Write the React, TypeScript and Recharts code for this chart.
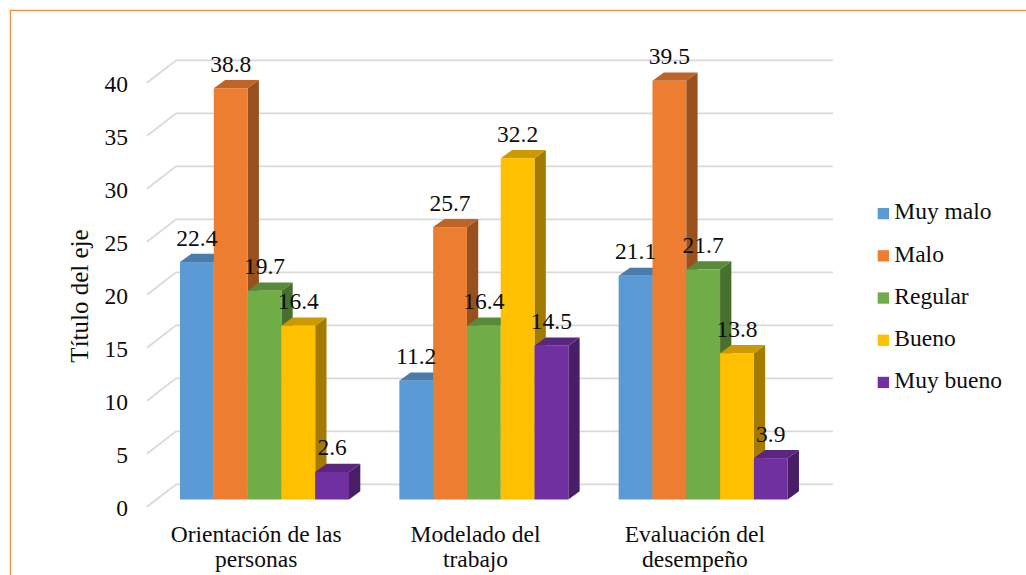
import React from 'react';
import { BarChart, Bar, XAxis, YAxis, CartesianGrid, LabelList, Legend } from 'recharts';

// Categories (two-line labels) and the five rating series
const categories = ['Orientación de las personas', 'Modelado del trabajo', 'Evaluación del desempeño'];
const categoryLines = [
  ['Orientación de las', 'personas'],
  ['Modelado del', 'trabajo'],
  ['Evaluación del', 'desempeño'],
];
const seriesNames = ['Muy malo', 'Malo', 'Regular', 'Bueno', 'Muy bueno'];
const seriesKeys = ['muyMalo', 'malo', 'regular', 'bueno', 'muyBueno'];
const seriesColors = ['#5B9BD5', '#ED7D31', '#70AD47', '#FFC000', '#7030A0'];

const muyMalo = [22.4, 11.2, 21.1];
const malo = [38.8, 25.7, 39.5];
const regular = [19.7, 16.4, 21.7];
const bueno = [16.4, 32.2, 13.8];
const muyBueno = [2.6, 14.5, 3.9];

const yTicks = [0, 5, 10, 15, 20, 25, 30, 35, 40];
const axisTitle = 'Título del eje';

const seriesValues = [muyMalo, malo, regular, bueno, muyBueno];
const data = categories.map((name, i) => {
  const row: Record<string, any> = { name, idx: i };
  seriesKeys.forEach((k, s) => {
    row[k] = seriesValues[s][i];
  });
  return row;
});

const FONT = '"Liberation Serif", "Times New Roman", serif';
const TEXT = '#0d0d0d';
const GRID = '#d9d9d9';

// depth of the 3D bars
const DX = 11.3;
const DY = 8.2;
// depth of the chart walls (grid)
const WALL_FRONT_X = -8;
const WALL_FRONT_Y = 7.2;
const WALL_BACK_X = 21;
const WALL_BACK_Y = -15.2;

function shade(hex: string, f: number) {
  const n = parseInt(hex.slice(1), 16);
  const r = Math.round(((n >> 16) & 255) * f);
  const g = Math.round(((n >> 8) & 255) * f);
  const b = Math.round((n & 255) * f);
  return `rgb(${r},${g},${b})`;
}

function Bar3D(props: any) {
  const { x, y, width, height, fill } = props;
  if (width == null || height == null) return null;
  const top = shade(fill, 0.8);
  const side = shade(fill, 0.64);
  const r = x + width;
  const b = y + height;
  return (
    <g>
      <polygon points={`${r},${y} ${r + DX},${y - DY} ${r + DX},${b - DY} ${r},${b}`} fill={side} />
      <polygon points={`${x},${y} ${x + DX},${y - DY} ${r + DX},${y - DY} ${r},${y}`} fill={top} />
      <rect x={x} y={y} width={width} height={height} fill={fill} />
    </g>
  );
}

function ValueLabel(props: any) {
  const { x, y, width, value } = props;
  return (
    <text
      x={x + width / 2}
      y={y - 16.5}
      textAnchor="middle"
      fontFamily={FONT}
      fontSize={23.5}
      fill={TEXT}
    >
      {value}
    </text>
  );
}

function GridLine(p: any) {
  const y = p.y1;
  const pts = `${p.x1 + WALL_FRONT_X},${y + WALL_FRONT_Y} ${p.x1 + WALL_BACK_X},${y + WALL_BACK_Y} ${p.x2 + 20},${y + WALL_BACK_Y}`;
  return <polyline key={`grid-${p.index}`} points={pts} fill="none" stroke={GRID} strokeWidth={1.8} />;
}

function YTick(props: any) {
  const { y, payload } = props;
  return (
    <text x={128} y={y + 16.3} textAnchor="end" fontFamily={FONT} fontSize={23.5} fill={TEXT}>
      {payload.value}
    </text>
  );
}

function XTick(props: any) {
  const { x, payload, index } = props;
  const lines = categoryLines[payload.index ?? index] || [payload.value];
  return (
    <g>
      {lines.map((t: string, i: number) => (
        <text
          key={i}
          x={x - 8.5}
          y={541.7 + i * 25.4}
          textAnchor="middle"
          fontFamily={FONT}
          fontSize={23.5}
          fill={TEXT}
        >
          {t}
        </text>
      ))}
    </g>
  );
}

function AxisTitle(props: any) {
  const vb = props.viewBox || { x: 0, y: 75.5, width: 155, height: 424 };
  const cy = vb.y + vb.height / 2 + 8.5;
  return (
    <text
      transform={`translate(88, ${cy}) rotate(-90)`}
      textAnchor="middle"
      fontFamily={FONT}
      fontSize={25}
      fill={TEXT}
    >
      {axisTitle}
    </text>
  );
}

function LegendBox() {
  return (
    <svg width={156} height={230} style={{ display: 'block', overflow: 'visible' }}>
      {seriesNames.map((n, i) => {
        const base = 29.3 + i * 42.2;
        return (
          <g key={n}>
            <rect x={7.7} y={base - 11.3} width={11.3} height={11.3} fill={seriesColors[i]} />
            <text x={24.3} y={base} fontFamily={FONT} fontSize={23.5} fill={TEXT}>
              {n}
            </text>
          </g>
        );
      })}
    </svg>
  );
}

export default function App() {
  return (
    <div
      style={{
        position: 'absolute',
        left: 0,
        top: 0,
        width: 1026,
        height: 575,
        overflow: 'hidden',
        background: '#fff',
      }}
    >
      <div
        style={{
          position: 'absolute',
          left: 10,
          top: 10,
          width: 1100,
          height: 700,
          borderLeft: '1.5px solid #F4893D',
          borderTop: '1.5px solid #F4893D',
          boxShadow: '-1px -1px 1px rgba(0,0,0,0.07)',
        }}
      />
      <div style={{ position: 'absolute', left: 0, top: 0 }}>
        <BarChart
          width={1026}
          height={575}
          data={data}
          margin={{ top: 75.5, right: 213, bottom: 0, left: 0 }}
          barGap={0}
          barSize={33.8}
        >
          <CartesianGrid vertical={false} horizontal={GridLine as any} />
          <XAxis
            dataKey="name"
            height={75.5}
            axisLine={false}
            tickLine={false}
            interval={0}
            tick={XTick as any}
          />
          <YAxis
            width={155}
            domain={[0, 40]}
            ticks={yTicks}
            axisLine={false}
            tickLine={false}
            tick={YTick as any}
            label={{ content: AxisTitle as any }}
          />
          <Legend
            layout="horizontal"
            align="center"
            verticalAlign="middle"
            wrapperStyle={{ left: 870, top: 190, width: 156, height: 230 }}
            content={() => <LegendBox />}
          />
          {seriesKeys.map((k, s) => (
            <Bar
              key={k}
              dataKey={k}
              name={seriesNames[s]}
              fill={seriesColors[s]}
              shape={Bar3D as any}
              isAnimationActive={false}
            >
              <LabelList dataKey={k} content={ValueLabel as any} />
            </Bar>
          ))}
        </BarChart>
      </div>
    </div>
  );
}
